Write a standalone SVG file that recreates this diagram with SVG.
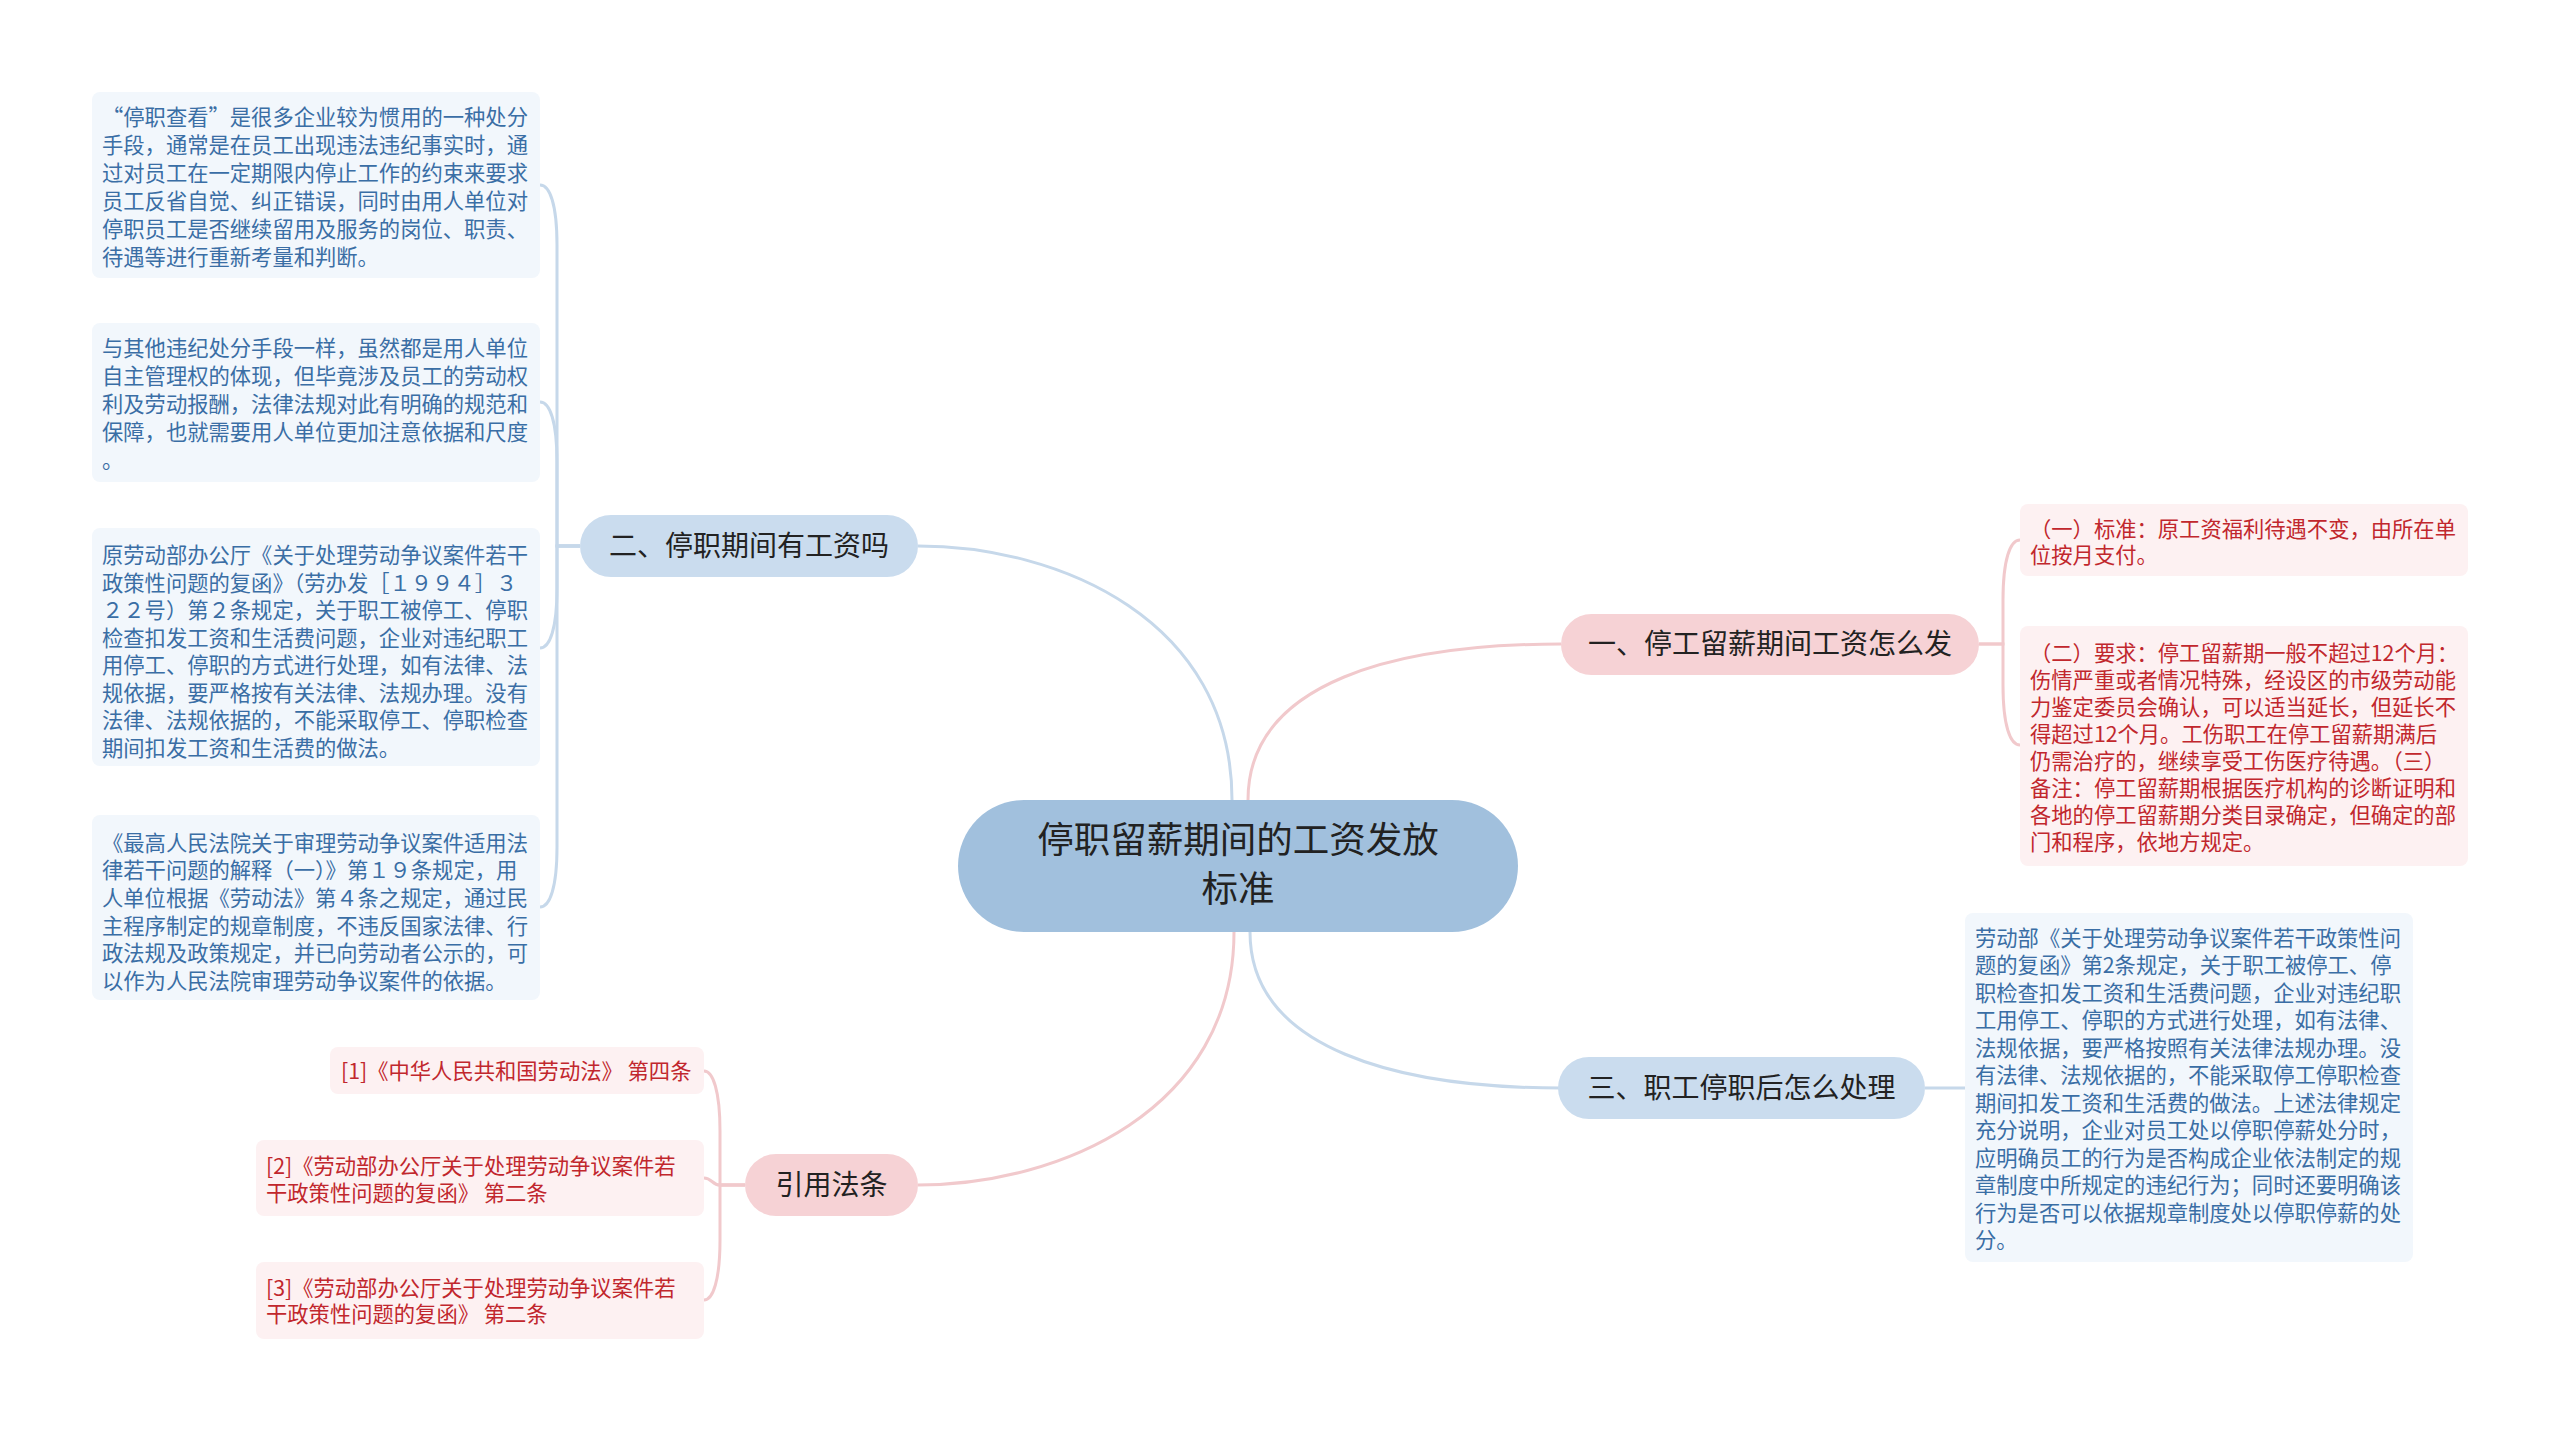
<svg xmlns="http://www.w3.org/2000/svg" width="2560" height="1431" viewBox="0 0 2560 1431">
<style>
text{font-family:"Noto Sans CJK SC","Noto Sans",sans-serif;}
.cb{fill:none;stroke:#c6d8ea;stroke-width:3;}
.cp{fill:none;stroke:#f1c9cc;stroke-width:3;}
.root{fill:#a1c0dd;}
.pb{fill:#cadcee;}
.pp{fill:#f6d2d5;}
.lb{fill:#f2f7fc;}
.lp{fill:#fdf1f2;}
.tr{font-size:36.5px;fill:#222;text-anchor:middle;}
.tm{font-size:28px;fill:#222;text-anchor:middle;}
.tb{font-size:21.3px;fill:#3a6ea5;}
.tp{font-size:21.3px;fill:#c1272d;}
</style>
<rect width="2560" height="1431" fill="#ffffff"/>
<g id="connectors">
<path class="cb" d="M1232 800 C1232 620 1060 546 918 546"/>
<path class="cp" d="M1248 800 C1248 680 1400 644 1561 644"/>
<path class="cp" d="M1234 932 C1234 1110 1060 1185 918 1185"/>
<path class="cb" d="M1250 932 C1250 1050 1400 1088 1561 1088"/>
<path class="cb" d="M580 546 H557 V245 C557 205 550 185 540 185"/>
<path class="cb" d="M580 546 H557 V462 C557 422 550 402 540 402"/>
<path class="cb" d="M580 546 H557 V588 C557 628 550 648 540 648"/>
<path class="cb" d="M580 546 H557 V847 C557 887 550 907 540 907"/>
<path class="cp" d="M1979 644 H2003 V600 C2003 560 2010 540 2020 540"/>
<path class="cp" d="M1979 644 H2003 V685 C2003 725 2010 745 2020 745"/>
<path class="cb" d="M1925 1088 H1965"/>
<path class="cp" d="M745 1185 H720 V1131 C720 1091 713 1071 704 1071"/>
<path class="cp" d="M745 1185 H720 C712 1185 712 1178 704 1178"/>
<path class="cp" d="M745 1185 H720 V1240 C720 1280 713 1300 704 1300"/>
</g>
<g id="root">
<rect class="root" x="958" y="800" width="560" height="132" rx="66"/>
<text class="tr" x="1238" y="853">停职留薪期间的工资发放</text>
<text class="tr" x="1238" y="902">标准</text>
</g>
<g id="b1">
<rect class="pp" x="1561" y="614" width="418" height="61" rx="30.5"/>
<text class="tm" x="1770" y="654">一、停工留薪期间工资怎么发</text>
</g>
<g id="b2">
<rect class="pb" x="580" y="515" width="338" height="62" rx="31"/>
<text class="tm" x="749" y="556">二、停职期间有工资吗</text>
</g>
<g id="b3">
<rect class="pb" x="1558" y="1057" width="367" height="62" rx="31"/>
<text class="tm" x="1741.5" y="1098">三、职工停职后怎么处理</text>
</g>
<g id="b4">
<rect class="pp" x="745" y="1154" width="173" height="62" rx="31"/>
<text class="tm" x="831.5" y="1195">引用法条</text>
</g>
<g id="l1">
<rect class="lb" x="92" y="92" width="448" height="186" rx="8"/>
<text class="tb" x="102"><tspan x="102" y="125">“停职查看”是很多企业较为惯用的一种处分</tspan><tspan x="102" y="153">手段，通常是在员工出现违法违纪事实时，通</tspan><tspan x="102" y="181">过对员工在一定期限内停止工作的约束来要求</tspan><tspan x="102" y="209">员工反省自觉、纠正错误，同时由用人单位对</tspan><tspan x="102" y="237">停职员工是否继续留用及服务的岗位、职责、</tspan><tspan x="102" y="265">待遇等进行重新考量和判断。</tspan></text>
</g>
<g id="l2">
<rect class="lb" x="92" y="323" width="448" height="159" rx="8"/>
<text class="tb"><tspan x="102" y="356">与其他违纪处分手段一样，虽然都是用人单位</tspan><tspan x="102" y="384">自主管理权的体现，但毕竟涉及员工的劳动权</tspan><tspan x="102" y="412">利及劳动报酬，法律法规对此有明确的规范和</tspan><tspan x="102" y="440">保障，也就需要用人单位更加注意依据和尺度</tspan><tspan x="102" y="468">。</tspan></text>
</g>
<g id="l3">
<rect class="lb" x="92" y="528" width="448" height="238" rx="8"/>
<text class="tb"><tspan x="102" y="563">原劳动部办公厅《关于处理劳动争议案件若干</tspan><tspan x="102" y="591">政策性问题的复函》（劳办发［１９９４］３</tspan><tspan x="102" y="618">２２号）第２条规定，关于职工被停工、停职</tspan><tspan x="102" y="646">检查扣发工资和生活费问题，企业对违纪职工</tspan><tspan x="102" y="673">用停工、停职的方式进行处理，如有法律、法</tspan><tspan x="102" y="701">规依据，要严格按有关法律、法规办理。没有</tspan><tspan x="102" y="728">法律、法规依据的，不能采取停工、停职检查</tspan><tspan x="102" y="756">期间扣发工资和生活费的做法。</tspan></text>
</g>
<g id="l4">
<rect class="lb" x="92" y="815" width="448" height="185" rx="8"/>
<text class="tb"><tspan x="102" y="851">《最高人民法院关于审理劳动争议案件适用法</tspan><tspan x="102" y="878">律若干问题的解释（一）》第１９条规定，用</tspan><tspan x="102" y="906">人单位根据《劳动法》第４条之规定，通过民</tspan><tspan x="102" y="934">主程序制定的规章制度，不违反国家法律、行</tspan><tspan x="102" y="961">政法规及政策规定，并已向劳动者公示的，可</tspan><tspan x="102" y="989">以作为人民法院审理劳动争议案件的依据。</tspan></text>
</g>
<g id="r1">
<rect class="lp" x="2020" y="504" width="448" height="72" rx="8"/>
<text class="tp"><tspan x="2030" y="537">（一）标准：原工资福利待遇不变，由所在单</tspan><tspan x="2030" y="563">位按月支付。</tspan></text>
</g>
<g id="r2">
<rect class="lp" x="2020" y="626" width="448" height="240" rx="8"/>
<text class="tp"><tspan x="2030" y="661">（二）要求：停工留薪期一般不超过12个月：</tspan><tspan x="2030" y="688">伤情严重或者情况特殊，经设区的市级劳动能</tspan><tspan x="2030" y="715">力鉴定委员会确认，可以适当延长，但延长不</tspan><tspan x="2030" y="742">得超过12个月。工伤职工在停工留薪期满后</tspan><tspan x="2030" y="769">仍需治疗的，继续享受工伤医疗待遇。（三）</tspan><tspan x="2030" y="796">备注：停工留薪期根据医疗机构的诊断证明和</tspan><tspan x="2030" y="823">各地的停工留薪期分类目录确定，但确定的部</tspan><tspan x="2030" y="850">门和程序，依地方规定。</tspan></text>
</g>
<g id="r3">
<rect class="lb" x="1965" y="913" width="448" height="349" rx="8"/>
<text class="tb"><tspan x="1975" y="946">劳动部《关于处理劳动争议案件若干政策性问</tspan><tspan x="1975" y="973">题的复函》第2条规定，关于职工被停工、停</tspan><tspan x="1975" y="1001">职检查扣发工资和生活费问题，企业对违纪职</tspan><tspan x="1975" y="1028">工用停工、停职的方式进行处理，如有法律、</tspan><tspan x="1975" y="1056">法规依据，要严格按照有关法律法规办理。没</tspan><tspan x="1975" y="1083">有法律、法规依据的，不能采取停工停职检查</tspan><tspan x="1975" y="1111">期间扣发工资和生活费的做法。上述法律规定</tspan><tspan x="1975" y="1138">充分说明，企业对员工处以停职停薪处分时，</tspan><tspan x="1975" y="1166">应明确员工的行为是否构成企业依法制定的规</tspan><tspan x="1975" y="1193">章制度中所规定的违纪行为；同时还要明确该</tspan><tspan x="1975" y="1221">行为是否可以依据规章制度处以停职停薪的处</tspan><tspan x="1975" y="1248">分。</tspan></text>
</g>
<g id="c1">
<rect class="lp" x="330" y="1047" width="374" height="47" rx="8"/>
<text class="tp"><tspan x="341" y="1079">[1]《中华人民共和国劳动法》 第四条</tspan></text>
</g>
<g id="c2">
<rect class="lp" x="256" y="1140" width="448" height="76" rx="8"/>
<text class="tp"><tspan x="266" y="1174">[2]《劳动部办公厅关于处理劳动争议案件若</tspan><tspan x="266" y="1201">干政策性问题的复函》 第二条</tspan></text>
</g>
<g id="c3">
<rect class="lp" x="256" y="1262" width="448" height="77" rx="8"/>
<text class="tp"><tspan x="266" y="1296">[3]《劳动部办公厅关于处理劳动争议案件若</tspan><tspan x="266" y="1322">干政策性问题的复函》 第二条</tspan></text>
</g>
</svg>
